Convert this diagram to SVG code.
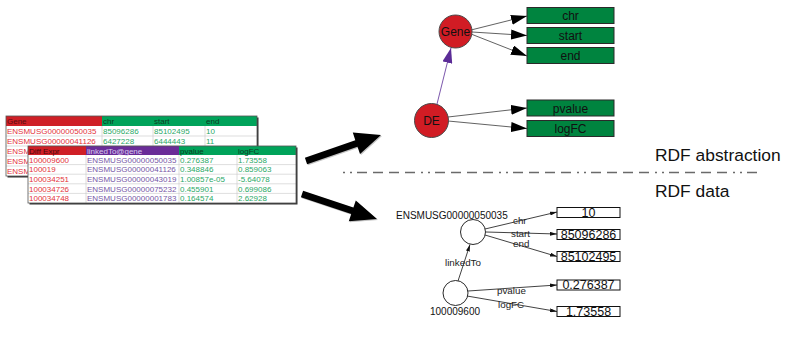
<svg xmlns="http://www.w3.org/2000/svg" width="794" height="342" viewBox="0 0 794 342">
<style>
  text { font-family: "Liberation Sans", Arial, sans-serif; }
  .tb { font-size: 8px; }
  .red { fill: #e3333b; }
  .grn { fill: #2aa866; }
  .pur { fill: #7657a6; }
  .hdr-red { fill: #cf1f26; }
  .hdr-grn { fill: #00a35a; }
  .hdr-pur { fill: #6a2c98; }
  .grid { stroke: #c8c8c8; stroke-width: 0.6; }
  .tframe { fill: none; stroke: #555; stroke-width: 0.8; }
  .shadow { fill: #333; }
  .rnode { fill: #d11c24; stroke: #4a4a4a; stroke-width: 1; }
  .gbox { fill: #00843f; stroke: #2a2a2a; stroke-width: 1; }
  .lbl { font-size: 12px; fill: #111; text-anchor: middle; }
  .edge { stroke: #3a3a3a; stroke-width: 0.8; fill: none; }
  .dedge { stroke: #111; stroke-width: 0.8; fill: none; }
  .wnode { fill: #fff; stroke: #111; stroke-width: 0.9; }
  .wbox { fill: #fff; stroke: #111; stroke-width: 1; }
  .val { font-size: 12.5px; fill: #111; text-anchor: middle; }
  .elbl { font-size: 9.8px; fill: #222; }
  .nlbl { font-size: 10px; fill: #111; }
</style>
<defs>
  <marker id="bigHead" viewBox="0 0 16 10" refX="16" refY="5" markerWidth="16" markerHeight="10" markerUnits="userSpaceOnUse" orient="auto">
    <path d="M0,0 L16,5 L0,10 z" fill="#000"/>
  </marker>
  <marker id="purHead" viewBox="0 0 15 10" refX="15" refY="5" markerWidth="15" markerHeight="10" markerUnits="userSpaceOnUse" orient="auto">
    <path d="M0,0 L15,5 L0,10 z" fill="#5b2c97"/>
  </marker>
  <marker id="smallHead" viewBox="0 0 7 4" refX="7" refY="2" markerWidth="7" markerHeight="4" markerUnits="userSpaceOnUse" orient="auto">
    <path d="M0,0 L7,2 L0,4 z" fill="#111"/>
  </marker>
</defs>

<!-- gene table (back) -->
<g id="gene-table">
  <rect class="shadow" x="7.5" y="117.5" width="251" height="60"/>
  <rect x="6" y="116" width="251" height="60" fill="#fff"/>
  <rect class="hdr-red" x="6" y="116" width="96" height="10"/>
  <rect class="hdr-grn" x="102" y="116" width="155" height="10"/>
  <g class="grid">
    <line x1="6" y1="136" x2="257" y2="136"/>
    <line x1="6" y1="146" x2="257" y2="146"/>
    <line x1="6" y1="156" x2="257" y2="156"/>
    <line x1="6" y1="166" x2="257" y2="166"/>
    <line x1="102" y1="126" x2="102" y2="176"/>
    <line x1="153" y1="126" x2="153" y2="176"/>
    <line x1="205" y1="126" x2="205" y2="176"/>
  </g>
  <rect class="tframe" x="6" y="116" width="251" height="60"/>
  <g class="tb">
    <text x="7" y="124" fill="#5a0d10">Gene</text>
    <text x="103" y="124" fill="#0c3b22">chr</text>
    <text x="154" y="124" fill="#0c3b22">start</text>
    <text x="206" y="124" fill="#0c3b22">end</text>
    <text class="red" x="7" y="134">ENSMUSG00000050035</text>
    <text class="grn" x="103" y="134">85096286</text>
    <text class="grn" x="154" y="134">85102495</text>
    <text class="grn" x="206" y="134">10</text>
    <text class="red" x="7" y="144">ENSMUSG00000041126</text>
    <text class="grn" x="103" y="144">6427228</text>
    <text class="grn" x="154" y="144">6444443</text>
    <text class="grn" x="206" y="144">11</text>
    <text class="red" x="7" y="154">ENSM</text>
    <text class="red" x="7" y="164">ENSM</text>
    <text class="red" x="7" y="174">ENSM</text>
  </g>
</g>

<!-- differential expression table (front) -->
<g id="de-table">
  <rect class="shadow" x="29.5" y="147.5" width="268" height="57"/>
  <rect x="28" y="146" width="268" height="57" fill="#fff"/>
  <rect class="hdr-red" x="28" y="146" width="58" height="9"/>
  <rect class="hdr-pur" x="86" y="146" width="93" height="9"/>
  <rect class="hdr-grn" x="179" y="146" width="117" height="9"/>
  <g class="grid">
    <line x1="28" y1="164.6" x2="296" y2="164.6"/>
    <line x1="28" y1="174.2" x2="296" y2="174.2"/>
    <line x1="28" y1="183.8" x2="296" y2="183.8"/>
    <line x1="28" y1="193.4" x2="296" y2="193.4"/>
    <line x1="86" y1="155" x2="86" y2="203"/>
    <line x1="179" y1="155" x2="179" y2="203"/>
    <line x1="237" y1="155" x2="237" y2="203"/>
  </g>
  <rect class="tframe" x="28" y="146" width="268" height="57"/>
  <g class="tb">
    <text x="29" y="153.5" fill="#4a0a0c">Diff Expr</text>
    <text x="87" y="153.5" fill="#d9ccf0">linkedTo@gene</text>
    <text x="180" y="153.5" fill="#0c3b22">pvalue</text>
    <text x="238" y="153.5" fill="#0c3b22">logFC</text>

    <text class="red" x="29" y="162.8">100009600</text>
    <text class="pur" x="87" y="162.8">ENSMUSG00000050035</text>
    <text class="grn" x="180" y="162.8">0.276387</text>
    <text class="grn" x="238" y="162.8">1.73558</text>

    <text class="red" x="29" y="172.4">100019</text>
    <text class="pur" x="87" y="172.4">ENSMUSG00000041126</text>
    <text class="grn" x="180" y="172.4">0.348846</text>
    <text class="grn" x="238" y="172.4">0.859063</text>

    <text class="red" x="29" y="182">100034251</text>
    <text class="pur" x="87" y="182">ENSMUSG00000043019</text>
    <text class="grn" x="180" y="182">1.00857e-05</text>
    <text class="grn" x="238" y="182">-5.64078</text>

    <text class="red" x="29" y="191.6">100034726</text>
    <text class="pur" x="87" y="191.6">ENSMUSG00000075232</text>
    <text class="grn" x="180" y="191.6">0.455901</text>
    <text class="grn" x="238" y="191.6">0.699086</text>

    <text class="red" x="29" y="201.2">100034748</text>
    <text class="pur" x="87" y="201.2">ENSMUSG00000001783</text>
    <text class="grn" x="180" y="201.2">0.164574</text>
    <text class="grn" x="238" y="201.2">2.62928</text>
  </g>
</g>

<!-- block arrows from tables to the two layers -->
<g id="block-arrows">
  <polygon fill="#888" opacity="0.5" points="308.1,165.3 305.9,158.7 356.3,141.2 353.8,133.6 382,136 361,154.9 358.5,147.8"/>
  <polygon fill="#000" points="307.1,164.3 304.9,157.7 355.3,140.2 352.8,132.6 381,135 360,153.9 357.5,146.8"/>
  <polygon fill="#888" opacity="0.5" points="301.9,198.3 304.1,191.7 354.4,208.5 356.8,201.4 378,220 349.8,222.2 352.2,215.1"/>
  <polygon fill="#000" points="300.9,197.3 303.1,190.7 353.4,207.5 355.8,200.4 377,219 348.8,221.2 351.2,214.1"/>
</g>

<!-- layer separator -->
<line x1="343" y1="172.5" x2="762" y2="172.5" stroke="#6a6a6a" stroke-width="1.3" stroke-dasharray="2 5 2 5 10 6 10 6 10 6 10 6"/>
<text x="655" y="161" font-size="17.4" fill="#111">RDF abstraction</text>
<text x="655" y="197" font-size="17.4" fill="#111">RDF data</text>

<!-- abstraction layer connectors -->
<g id="abstract-edges">
  <line class="edge" x1="471" y1="30" x2="527" y2="16" marker-end="url(#bigHead)"/>
  <line class="edge" x1="472" y1="32" x2="527" y2="35.5" marker-end="url(#bigHead)"/>
  <line class="edge" x1="471" y1="34" x2="527" y2="56" marker-end="url(#bigHead)"/>
  <line class="edge" x1="448" y1="117" x2="527" y2="108" marker-end="url(#bigHead)"/>
  <line class="edge" x1="448" y1="121" x2="527" y2="128.5" marker-end="url(#bigHead)"/>
  <line x1="437" y1="104" x2="451" y2="48" stroke="#5b2c97" stroke-width="0.8" marker-end="url(#purHead)"/>
</g>

<!-- abstraction layer nodes -->
<g id="node-gene">
  <circle class="rnode" cx="455.5" cy="31.5" r="16.5"/>
  <text class="lbl" x="455.5" y="36" font-size="12.5">Gene</text>
</g>
<g id="node-de">
  <circle class="rnode" cx="431.5" cy="120.5" r="17"/>
  <text class="lbl" x="431.5" y="125">DE</text>
</g>
<g id="attr-chr">
  <rect class="gbox" x="527" y="7.5" width="87" height="16"/>
  <text class="lbl" x="570.5" y="20">chr</text>
</g>
<g id="attr-start">
  <rect class="gbox" x="527" y="27.5" width="87" height="16"/>
  <text class="lbl" x="570.5" y="40">start</text>
</g>
<g id="attr-end">
  <rect class="gbox" x="527" y="47.5" width="87" height="16"/>
  <text class="lbl" x="570.5" y="60">end</text>
</g>
<g id="attr-pvalue">
  <rect class="gbox" x="527" y="100" width="87" height="16"/>
  <text class="lbl" x="570.5" y="112.5">pvalue</text>
</g>
<g id="attr-logfc">
  <rect class="gbox" x="527" y="120.5" width="87" height="16"/>
  <text class="lbl" x="570.5" y="133">logFC</text>
</g>

<!-- data layer connectors -->
<g id="data-edges">
  <line class="dedge" x1="485" y1="229" x2="557" y2="212" marker-end="url(#smallHead)"/>
  <line class="dedge" x1="486" y1="232" x2="557" y2="234" marker-end="url(#smallHead)"/>
  <line class="dedge" x1="485" y1="235" x2="557" y2="256.5" marker-end="url(#smallHead)"/>
  <line class="dedge" x1="468" y1="291" x2="557" y2="285" marker-end="url(#smallHead)"/>
  <line class="dedge" x1="467" y1="296" x2="557" y2="311.5" marker-end="url(#smallHead)"/>
  <line class="dedge" x1="458" y1="281" x2="470" y2="244.5" marker-end="url(#smallHead)"/>
  <text class="elbl" x="513" y="223.5">chr</text>
  <text class="elbl" x="511" y="236.5">start</text>
  <text class="elbl" x="513" y="247">end</text>
  <text class="elbl" x="497" y="294">pvalue</text>
  <text class="elbl" x="498" y="307.5">logFC</text>
  <text class="elbl" x="445" y="266">linkedTo</text>
</g>

<!-- data layer nodes -->
<g id="node-ensmusg">
  <circle class="wnode" cx="473" cy="232" r="12.5"/>
  <text class="nlbl" x="396" y="219">ENSMUSG00000050035</text>
</g>
<g id="node-100009600">
  <circle class="wnode" cx="455.5" cy="293" r="12.5"/>
  <text class="nlbl" x="430" y="315">100009600</text>
</g>
<g id="val-10">
  <rect class="wbox" x="557" y="207.5" width="63" height="10"/>
  <text class="val" x="588.5" y="216.5">10</text>
</g>
<g id="val-85096286">
  <rect class="wbox" x="557" y="229.5" width="63" height="10"/>
  <text class="val" x="588.5" y="238.5">85096286</text>
</g>
<g id="val-85102495">
  <rect class="wbox" x="557" y="251.5" width="63" height="10"/>
  <text class="val" x="588.5" y="260.5">85102495</text>
</g>
<g id="val-0.276387">
  <rect class="wbox" x="557" y="280" width="63" height="10"/>
  <text class="val" x="588.5" y="289">0.276387</text>
</g>
<g id="val-1.73558">
  <rect class="wbox" x="557" y="306.5" width="63" height="10"/>
  <text class="val" x="588.5" y="315.5">1.73558</text>
</g>
</svg>
